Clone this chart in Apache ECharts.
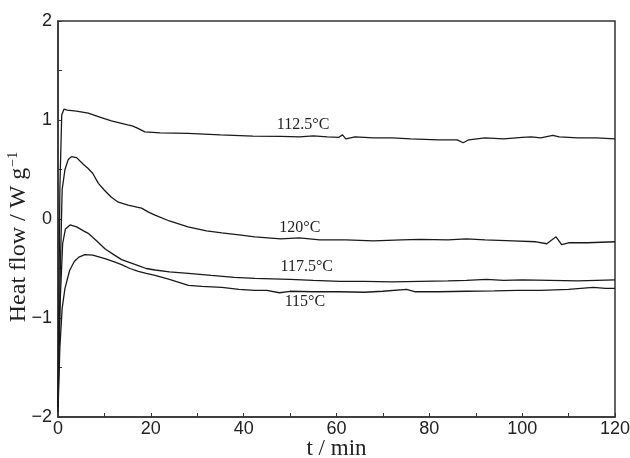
<!DOCTYPE html>
<html>
<head>
<meta charset="utf-8">
<script src="https://cdn.jsdelivr.net/npm/echarts@6/dist/echarts.min.js"></script>
<style>
  html, body { margin: 0; padding: 0; background: #fff; }
  #chart { width: 630px; height: 458px; }
</style>
</head>
<body>
<div id="chart"></div>
<script>
// Isothermal DSC traces: heat flow (W/g) vs time (min)
const xTicks = [0, 20, 40, 60, 80, 100, 120];
const yTicks = [-2, -1, 0, 1, 2];

const trace1125 = [[0,-1.9],[0.4,0.3],[0.8,1.05],[1.3,1.11],[2,1.1],[4,1.09],[6.5,1.07],[9,1.03],[11.5,0.99],[13.7,0.965],[15,0.95],[16,0.94],[17,0.92],[18.7,0.88],[22,0.87],[28,0.865],[35,0.85],[42,0.838],[48,0.835],[52,0.83],[55,0.84],[58,0.83],[60.5,0.825],[61.3,0.85],[62,0.81],[64,0.83],[68,0.82],[72,0.82],[76,0.81],[82,0.8],[86,0.8],[87.3,0.77],[88.5,0.8],[92,0.82],[96,0.81],[100,0.825],[102,0.83],[104,0.82],[106.6,0.845],[108,0.83],[112,0.82],[116,0.82],[120,0.81]];

const trace120 = [[0,-1.85],[0.5,-0.5],[0.9,0.3],[1.5,0.5],[2.2,0.6],[2.9,0.63],[4,0.62],[5.5,0.55],[6.5,0.51],[7.5,0.46],[8.7,0.36],[10,0.29],[11.5,0.22],[13,0.17],[15.1,0.14],[17,0.12],[18,0.11],[19.5,0.07],[20.9,0.04],[24,-0.02],[28,-0.08],[32,-0.12],[35.3,-0.14],[39,-0.16],[42.4,-0.18],[48,-0.2],[52,-0.19],[56.4,-0.21],[62,-0.21],[68,-0.22],[74,-0.21],[78,-0.205],[84,-0.21],[88,-0.2],[92,-0.21],[98,-0.22],[103,-0.23],[105.3,-0.25],[107.3,-0.18],[108.5,-0.26],[110,-0.24],[114,-0.24],[120,-0.23]];

const trace1175 = [[0,-1.9],[0.5,-0.8],[1,-0.25],[1.6,-0.1],[2.6,-0.06],[4,-0.08],[5.5,-0.12],[6.5,-0.145],[8.3,-0.22],[10.1,-0.3],[12,-0.36],[13.7,-0.41],[15.5,-0.44],[17.3,-0.47],[19,-0.5],[20.9,-0.515],[24,-0.535],[28.1,-0.55],[33,-0.57],[38,-0.59],[42.4,-0.6],[50,-0.61],[55,-0.62],[60.7,-0.63],[66,-0.63],[72,-0.635],[78,-0.63],[84,-0.625],[88,-0.62],[92.3,-0.61],[96,-0.62],[100,-0.615],[106,-0.62],[112,-0.625],[116,-0.62],[120,-0.615]];

const trace115 = [[0,-1.95],[0.4,-1.3],[0.9,-0.9],[1.5,-0.7],[2.5,-0.52],[3.5,-0.43],[4.5,-0.385],[5.8,-0.36],[7.5,-0.365],[10.1,-0.4],[12,-0.43],[13.7,-0.46],[15.5,-0.5],[17.3,-0.53],[19,-0.55],[20.9,-0.57],[24,-0.61],[28.1,-0.67],[31,-0.68],[35.3,-0.69],[39,-0.71],[42.4,-0.72],[45,-0.72],[47.7,-0.745],[50,-0.73],[55,-0.735],[60.7,-0.735],[66,-0.74],[70,-0.73],[75.1,-0.71],[77,-0.735],[82,-0.735],[88,-0.73],[94,-0.725],[99,-0.72],[104,-0.72],[110,-0.71],[115.3,-0.69],[118,-0.7],[120,-0.7]];

const seriesNames = ['112.5°C', '120°C', '117.5°C', '115°C'];

const chart = echarts.init(document.getElementById('chart'), null, { renderer: 'canvas' });

const ink = '#1a1a1a';
const serif = 'Liberation Serif, Times New Roman, serif';
const tickFont = { fontFamily: 'Liberation Sans, Arial, sans-serif', fontSize: 18, color: '#222' };

function traceSeries(name, data, labelCoord) {
  return {
    name: name,
    type: 'line',
    data: data,
    showSymbol: false,
    smooth: false,
    lineStyle: { color: ink, width: 1.3 },
    z: 3,
    markPoint: {
      symbol: 'circle',
      symbolSize: 0,
      silent: true,
      label: {
        show: true,
        position: 'inside',
        formatter: name,
        fontFamily: serif,
        fontSize: 16,
        color: '#222'
      },
      data: [{ coord: labelCoord }]
    }
  };
}

chart.setOption({
  animation: false,
  backgroundColor: '#fff',
  grid: {
    left: 58, right: 15, top: 21, bottom: 41,
    containLabel: false,
    outerBoundsMode: 'none',
    show: true, borderColor: '#333', borderWidth: 1.5, backgroundColor: 'transparent'
  },
  xAxis: {
    type: 'value',
    min: 0, max: 120, interval: 10,
    name: 't / min',
    nameLocation: 'middle',
    nameGap: 20,
    nameMoveOverlap: false,
    nameTextStyle: { fontFamily: serif, fontSize: 23, color: '#222' },
    axisLine: { show: true, onZero: false, lineStyle: { color: '#333', width: 1.5 } },
    axisTick: { show: true, inside: true, length: 4, lineStyle: { color: '#333' } },
    axisLabel: Object.assign({
      margin: 3,
      formatter: v => (xTicks.indexOf(v) >= 0 ? String(v) : '')
    }, tickFont),
    splitLine: { show: false }
  },
  yAxis: {
    type: 'value',
    min: -2, max: 2, interval: 0.5,
    name: '{a|Heat flow / W g}{s|−1}',
    nameLocation: 'middle',
    nameGap: 26,
    nameRotate: 90,
    nameMoveOverlap: false,
    nameTextStyle: {
      padding: [0, 36, 0, 0],
      rich: {
        a: { fontFamily: serif, fontSize: 24, lineHeight: 26, color: '#222' },
        s: { fontFamily: serif, fontSize: 14, lineHeight: 14, color: '#222', verticalAlign: 'top', padding: [0, 0, 0, 1] }
      }
    },
    axisLine: { show: true, onZero: false, lineStyle: { color: '#333', width: 1.5 } },
    axisTick: { show: true, inside: true, length: 4, lineStyle: { color: '#333' } },
    axisLabel: Object.assign({
      margin: 6,
      formatter: v => (yTicks.indexOf(v) >= 0 ? String(v).replace('-', '−') : '')
    }, tickFont),
    splitLine: { show: false }
  },
  series: [
    traceSeries(seriesNames[0], trace1125, [52.8, 0.95]),
    traceSeries(seriesNames[1], trace120, [52.1, -0.09]),
    traceSeries(seriesNames[2], trace1175, [53.6, -0.485]),
    traceSeries(seriesNames[3], trace115, [53.2, -0.84])
  ]
});
</script>
</body>
</html>
